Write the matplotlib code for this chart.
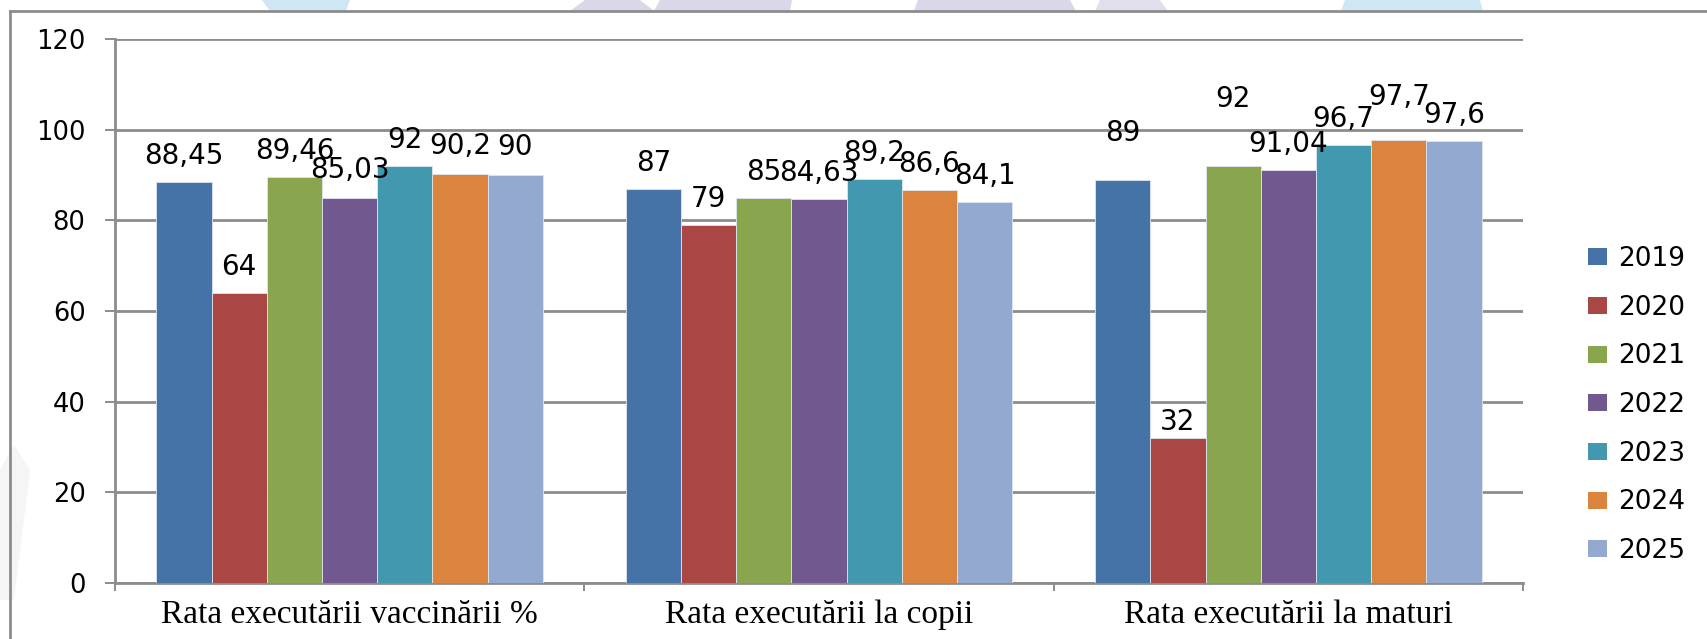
import matplotlib
matplotlib.use("Agg")
import matplotlib.pyplot as plt
from matplotlib.patches import Polygon, Patch
from matplotlib.lines import Line2D
import numpy as np

categories = ["Rata executării vaccinării %", "Rata executării la copii", "Rata executării la maturi"]
years = ["2019", "2020", "2021", "2022", "2023", "2024", "2025"]
v2019 = [88.45, 87, 89]
v2020 = [64, 79, 32]
v2021 = [89.46, 85, 92]
v2022 = [85.03, 84.63, 91.04]
v2023 = [92, 89.2, 96.7]
v2024 = [90.2, 86.6, 97.7]
v2025 = [90, 84.1, 97.6]
series = [v2019, v2020, v2021, v2022, v2023, v2024, v2025]
yticks = [0, 20, 40, 60, 80, 100, 120]

colors = ["#4572A7", "#AA4643", "#89A54E", "#71588F", "#4198AF", "#DB843D", "#93A9CF"]
# extra label lift in pixels (per category, per year) to mimic manual placement
label_extra = [[0, 0, 0, 2, 0, 2, 2],
               [0, 0, 0, 0, 0, 0, 0],
               [21, -10, 41, 0, 0, 17, 0]]

W, H = 1707, 639
fig = plt.figure(figsize=(W / 100, H / 100), dpi=100)

def fx(px):
    return px / W

def fy(py):
    return 1 - py / H

# faint watermark shapes at top strip and left edge
wm = [
    ([(262, 0), (350, 0), (346, 11), (270, 11)], "#cfe7f5"),
    ([(570, 11), (585, 0), (640, 0), (654, 11)], "#dcd7e8"),
    ([(654, 11), (660, 0), (792, 0), (790, 11)], "#dcd7e8"),
    ([(914, 11), (918, 0), (1070, 0), (1076, 11)], "#dcd7e8"),
    ([(1095, 11), (1100, 0), (1160, 0), (1168, 11)], "#e2deed"),
    ([(1341, 11), (1345, 0), (1480, 0), (1483, 11)], "#cfe7f5"),
    ([(0, 470), (14, 445), (30, 470), (14, 600), (0, 600)], "#f5f5f5"),
]
for pts, c in wm:
    fig.add_artist(Polygon([(fx(a), fy(b)) for a, b in pts], closed=True,
                           transform=fig.transFigure, facecolor=c, edgecolor="none", zorder=0))

# outer frame lines
frame_c = "#8c8c8c"
fig.add_artist(Line2D([fx(10), fx(10)], [fy(11), fy(639)], transform=fig.transFigure, color=frame_c, lw=2))
fig.add_artist(Line2D([fx(10), fx(1707)], [fy(11), fy(11)], transform=fig.transFigure, color=frame_c, lw=2))

ax_l, ax_r, ax_t, ax_b = 115, 1523, 39, 583
ax = fig.add_axes([fx(ax_l), fy(ax_b), fx(ax_r - ax_l), (ax_b - ax_t) / H])
ax.set_facecolor("none")

n = len(series)
w = 1 / (n + 1.5)
x = np.arange(len(categories))
for i, (vals, c) in enumerate(zip(series, colors)):
    xs = x + (i - (n - 1) / 2) * w
    ax.bar(xs, vals, width=w, color=c, edgecolor="#dfe6f0", linewidth=0.6, zorder=3)
    for j, (xx, v) in enumerate(zip(xs, vals)):
        ax.annotate(f"{v:g}".replace(".", ","), (xx, v),
                    xytext=(0, 18 + label_extra[j][i]), textcoords="offset pixels",
                    ha="center", va="baseline", fontsize=20, family="DejaVu Sans",
                    color="black", zorder=5)

ax.set_xlim(-0.5, len(categories) - 0.5)
ax.set_ylim(0, 120)
ax.set_yticks(yticks)
ax.yaxis.grid(True, color=frame_c, lw=2, zorder=1)
ax.set_axisbelow(True)
for s in ["top", "right"]:
    ax.spines[s].set_visible(False)
for s in ["left", "bottom"]:
    ax.spines[s].set_color(frame_c)
    ax.spines[s].set_linewidth(2)
ax.tick_params(axis="y", length=7.2, width=1.4, color=frame_c, pad=14, labelsize=18.5)
for lab in ax.get_yticklabels():
    lab.set_family("DejaVu Sans")
ax.set_xticks(x)
ax.set_xticklabels(categories, family="Liberation Serif", fontsize=24)
ax.tick_params(axis="x", which="major", length=0, pad=12)
ax.set_xticks(np.arange(-0.5, len(categories)), minor=True)
ax.tick_params(axis="x", which="minor", length=6, width=1.4, color=frame_c)

handles = [Patch(facecolor=c, edgecolor="none") for c in colors]
fig.legend(handles, years, loc="upper left", bbox_to_anchor=(fx(1588), fy(246)),
           frameon=False, handlelength=0.72, handleheight=0.62,
           handletextpad=0.42, labelspacing=0.86, borderpad=0, borderaxespad=0,
           prop={"family": "DejaVu Sans", "size": 19})

fig.savefig("out.png", dpi=100)
